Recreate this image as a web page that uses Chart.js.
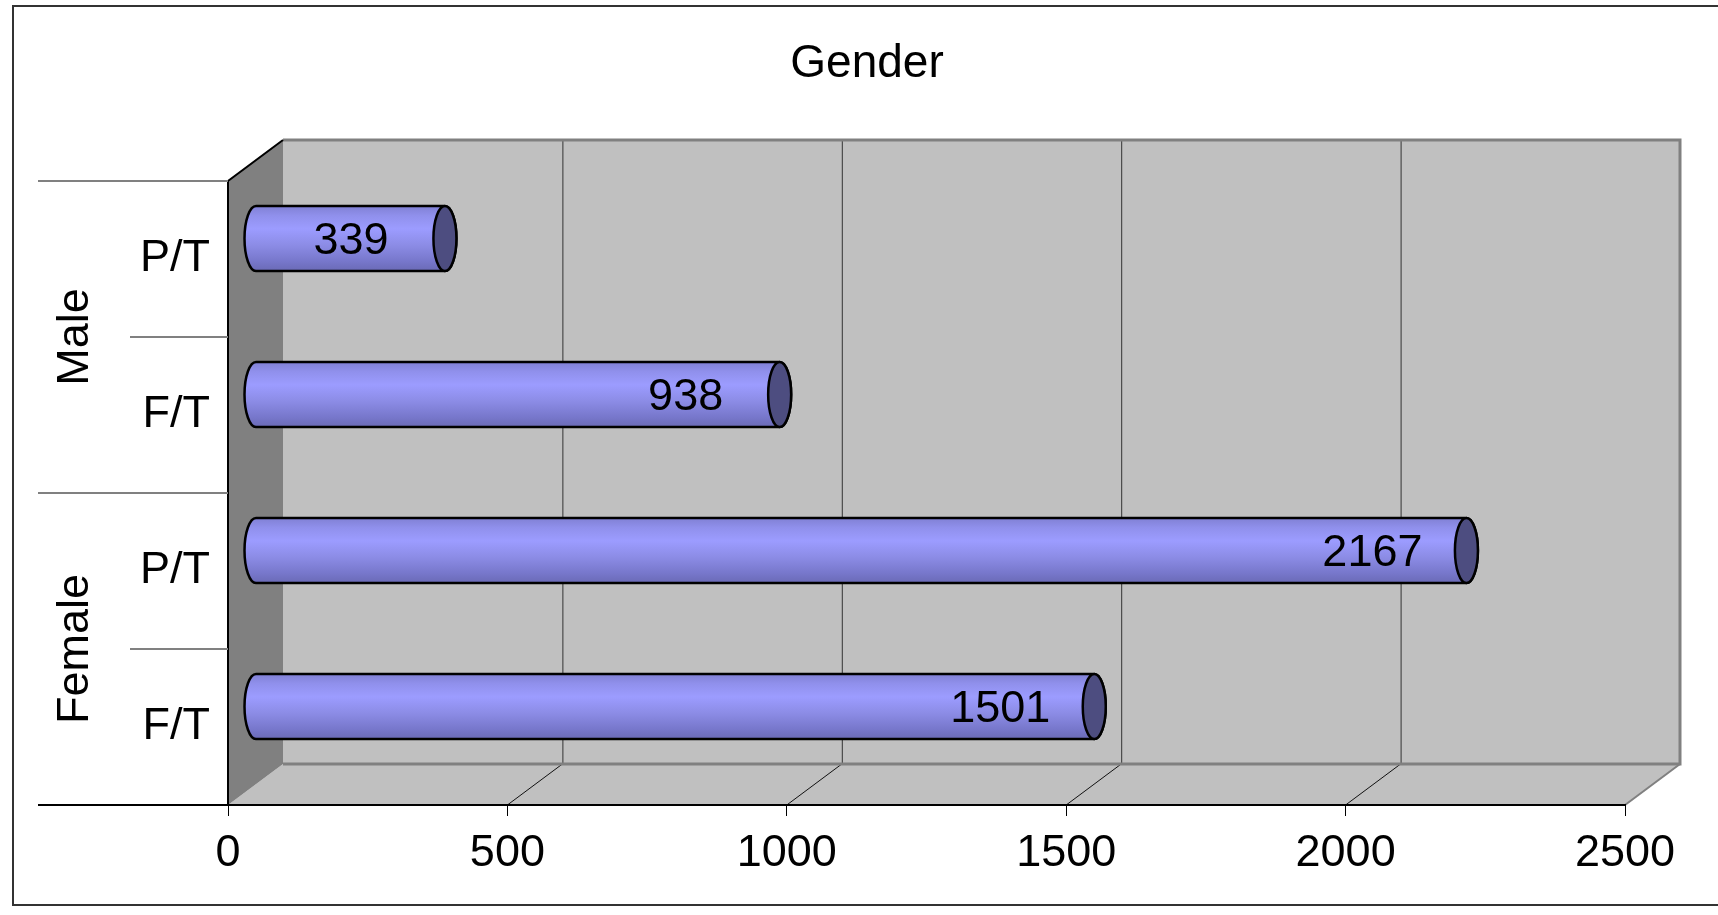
<!DOCTYPE html>
<html>
<head>
<meta charset="utf-8">
<title>Gender</title>
<script src="https://cdn.jsdelivr.net/npm/chart.js@4.4.0/dist/chart.umd.min.js"></script>
<style>
  html, body { margin: 0; padding: 0; background: #fff; }
  #wrap { width: 1718px; height: 915px; }
</style>
</head>
<body>
<div id="wrap"><canvas id="genderChart" width="1718" height="915"></canvas></div>
<script>
// headcount by gender and work pattern
var groups = ['Male', 'Female'];
var statusLabels = ['P/T', 'F/T', 'P/T', 'F/T'];
var headcount = [339, 938, 2167, 1501];
var axisMax = 2500;
var axisStep = 500;

var FONT = '"Liberation Sans", Arial, sans-serif';
var DEPTH_X = 55;   // offset of the back wall from the front plane
var DEPTH_Y = -41;

var boxPlugin = {
  id: 'box3d',
  beforeDraw: function (chart) {
    var ctx = chart.ctx;
    var area = chart.chartArea;
    var xs = chart.scales.x;
    var ys = chart.scales.y;
    var L = area.left, R = area.right, T = area.top, B = area.bottom;

    ctx.save();
    ctx.fillStyle = '#fff';
    ctx.fillRect(0, 0, chart.width, chart.height);

    // outer frame
    ctx.strokeStyle = '#333';
    ctx.lineWidth = 2;
    ctx.strokeRect(13, 6, chart.width + 20, 899);

    // title
    ctx.fillStyle = '#000';
    ctx.font = '46px ' + FONT;
    ctx.textAlign = 'center';
    ctx.textBaseline = 'middle';
    ctx.fillText('Gender', 867, 64);

    // back wall
    ctx.fillStyle = '#c0c0c0';
    ctx.fillRect(L + DEPTH_X, T + DEPTH_Y, R - L, B - T);

    // floor
    ctx.beginPath();
    ctx.moveTo(L, B);
    ctx.lineTo(R, B);
    ctx.lineTo(R + DEPTH_X, B + DEPTH_Y);
    ctx.lineTo(L + DEPTH_X, B + DEPTH_Y);
    ctx.closePath();
    ctx.fill();

    // left wall
    ctx.fillStyle = '#808080';
    ctx.beginPath();
    ctx.moveTo(L, T);
    ctx.lineTo(L + DEPTH_X, T + DEPTH_Y);
    ctx.lineTo(L + DEPTH_X, B + DEPTH_Y);
    ctx.lineTo(L, B);
    ctx.closePath();
    ctx.fill();

    // gridlines on back wall and floor
    var v;
    for (v = axisStep; v < axisMax; v += axisStep) {
      var px = xs.getPixelForValue(v);
      ctx.strokeStyle = '#333';
      ctx.lineWidth = 1;
      ctx.beginPath();
      ctx.moveTo(px + DEPTH_X + 0.5, T + DEPTH_Y);
      ctx.lineTo(px + DEPTH_X + 0.5, B + DEPTH_Y);
      ctx.stroke();
      ctx.strokeStyle = '#111';
      ctx.beginPath();
      ctx.moveTo(px, B);
      ctx.lineTo(px + DEPTH_X, B + DEPTH_Y);
      ctx.stroke();
    }

    // back wall edges
    ctx.strokeStyle = '#808080';
    ctx.lineWidth = 3;
    ctx.beginPath();
    ctx.moveTo(L + DEPTH_X, T + DEPTH_Y);
    ctx.lineTo(R + DEPTH_X, T + DEPTH_Y);
    ctx.lineTo(R + DEPTH_X, B + DEPTH_Y);
    ctx.lineTo(L + DEPTH_X, B + DEPTH_Y);
    ctx.stroke();
    ctx.lineWidth = 2;
    ctx.beginPath();
    ctx.moveTo(R, B);
    ctx.lineTo(R + DEPTH_X, B + DEPTH_Y);
    ctx.stroke();

    // left wall front edges
    ctx.strokeStyle = '#000';
    ctx.lineWidth = 2;
    ctx.beginPath();
    ctx.moveTo(L + DEPTH_X, T + DEPTH_Y);
    ctx.lineTo(L, T);
    ctx.lineTo(L, B);
    ctx.stroke();

    // category dividers on the left
    var n = statusLabels.length;
    var band = (B - T) / n;
    for (var i = 0; i < n; i++) {
      var edge = ys.getPixelForValue(i) - band / 2;
      var outer = i % 2 === 0;
      ctx.strokeStyle = '#808080';
      ctx.lineWidth = 2;
      ctx.beginPath();
      ctx.moveTo(outer ? 38 : 130, edge);
      ctx.lineTo(L, edge);
      ctx.stroke();
    }
    ctx.strokeStyle = '#000';
    ctx.lineWidth = 2;
    ctx.beginPath();
    ctx.moveTo(38, B);
    ctx.lineTo(L, B);
    ctx.stroke();

    // group labels
    ctx.fillStyle = '#000';
    ctx.font = '45px ' + FONT;
    groups.forEach(function (g, gi) {
      var cy = (ys.getPixelForValue(gi * 2) + ys.getPixelForValue(gi * 2 + 1)) / 2;
      ctx.save();
      ctx.translate(76, cy);
      ctx.rotate(-Math.PI / 2);
      ctx.textAlign = 'center';
      ctx.textBaseline = 'middle';
      ctx.fillText(g, 0, 0);
      ctx.restore();
    });
    ctx.restore();
  },
  afterDatasetsDraw: function (chart) {
    var ctx = chart.ctx;
    var meta = chart.getDatasetMeta(0);
    var data = chart.data.datasets[0].data;
    ctx.save();
    meta.data.forEach(function (bar, i) {
      var x0 = bar.base + DEPTH_X / 2;
      var x1 = bar.x + DEPTH_X / 2;
      var cy = bar.y + DEPTH_Y / 2;
      var ry = bar.height / 2;
      var rx = 11.5;

      var grad = ctx.createLinearGradient(0, cy - ry, 0, cy + ry);
      grad.addColorStop(0, '#8080d4');
      grad.addColorStop(0.15, '#9090ec');
      grad.addColorStop(0.35, '#9c9cff');
      grad.addColorStop(0.6, '#8c8ce6');
      grad.addColorStop(0.85, '#7777cb');
      grad.addColorStop(1, '#6a6ab6');

      ctx.beginPath();
      ctx.moveTo(x0, cy - ry);
      ctx.lineTo(x1, cy - ry);
      ctx.ellipse(x1, cy, rx, ry, 0, -Math.PI / 2, Math.PI / 2, false);
      ctx.lineTo(x0, cy + ry);
      ctx.ellipse(x0, cy, rx, ry, 0, Math.PI / 2, Math.PI * 1.5, false);
      ctx.closePath();
      ctx.fillStyle = grad;
      ctx.fill();
      ctx.strokeStyle = '#000';
      ctx.lineWidth = 2.5;
      ctx.stroke();

      // end cap
      ctx.beginPath();
      ctx.ellipse(x1, cy, rx, ry, 0, 0, Math.PI * 2);
      ctx.fillStyle = '#4d4d80';
      ctx.fill();
      ctx.stroke();

      // value label
      ctx.fillStyle = '#000';
      ctx.font = '45px ' + FONT;
      ctx.textAlign = 'center';
      ctx.textBaseline = 'middle';
      ctx.fillText(String(data[i]), x1 - 94, cy + 3);
    });
    ctx.restore();
  }
};

var ctxGender = document.getElementById('genderChart').getContext('2d');

var genderChart = new Chart(ctxGender, {
  type: 'bar',
  data: {
    labels: statusLabels,
    datasets: [{
      label: 'Gender',
      data: headcount,
      backgroundColor: 'rgba(0,0,0,0)',
      borderWidth: 0,
      barPercentage: 0.417,
      categoryPercentage: 1
    }]
  },
  options: {
    indexAxis: 'y',
    responsive: false,
    animation: false,
    devicePixelRatio: 1,
    layout: {
      padding: { top: 181, right: 93, left: 0, bottom: 0 }
    },
    plugins: {
      legend: { display: false },
      title: { display: false },
      tooltip: { enabled: false }
    },
    scales: {
      x: {
        type: 'linear',
        min: 0,
        max: axisMax,
        position: 'bottom',
        afterFit: function (scale) { scale.height = 110; },
        grid: {
          display: true,
          drawOnChartArea: false,
          drawTicks: true,
          tickLength: 11,
          color: '#000',
          lineWidth: 1
        },
        border: { display: true, color: '#000', width: 2 },
        ticks: {
          stepSize: axisStep,
          autoSkip: false,
          maxRotation: 0,
          padding: 11,
          color: '#000',
          font: { family: FONT, size: 45 },
          callback: function (value) { return String(value); }
        }
      },
      y: {
        afterFit: function (scale) { scale.width = 228; },
        grid: { display: false, drawTicks: false },
        border: { display: false },
        ticks: {
          padding: 18,
          color: '#000',
          font: { family: FONT, size: 45 }
        }
      }
    }
  },
  plugins: [boxPlugin]
});
</script>
</body>
</html>
